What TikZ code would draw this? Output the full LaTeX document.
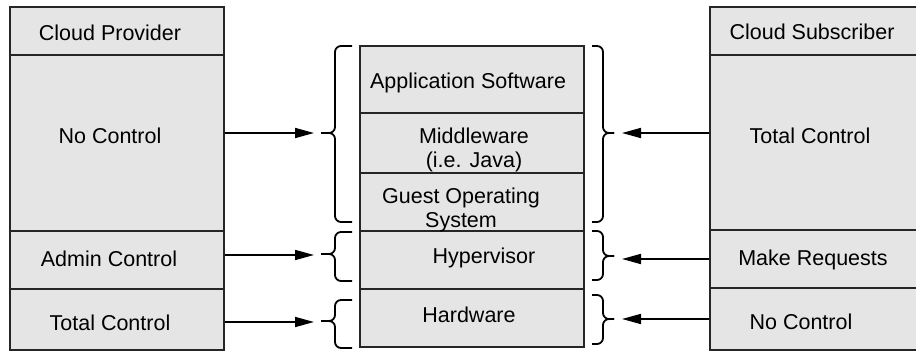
\documentclass[tikz,border=0pt]{standalone}
\usepackage{fontspec}
\setmainfont{Liberation Sans}
\usetikzlibrary{arrows.meta}
% curly bracket: end x, body x, tip x, top y, tip y, bottom y
\newcommand{\curl}[6]{%
  \draw[curl] (#1,#4) -- (#2,#4) -- (#2,#5) -- (#3,#5);
  \draw[curl] (#3,#5) -- (#2,#5) -- (#2,#6) -- (#1,#6);}
\begin{document}
\begin{tikzpicture}[x=1pt, y=-1pt]
  \tikzstyle{box}=[draw=black!85, line width=1.7pt, fill=black!10, inner sep=0pt]
  \tikzstyle{side}=[box, minimum width=214pt]
  \tikzstyle{layer}=[box, minimum width=224pt]
  \tikzstyle{lbl}=[font=\fontsize{21.5}{24}\selectfont, inner sep=0pt, align=center]
  \tikzstyle{arr}=[line width=1.7pt, -{Triangle[length=19pt, width=10pt]}]
  \tikzstyle{curl}=[line width=1.8pt, rounded corners=6pt]

  \useasboundingbox (0,0) rectangle (916,352);

  % provider column
  \node[side, minimum height=48pt]  (prov)    at (117, 31)  {};
  \node[side, minimum height=176pt] (provNo)  at (117, 143) {};
  \node[side, minimum height=58pt]  (provAdm) at (117, 260) {};
  \node[side, minimum height=61pt]  (provTot) at (117, 319.5) {};

  % software stack
  \node[layer, minimum height=67pt] (app) at (472, 79.5) {};
  \node[layer, minimum height=60pt] (mid) at (472, 143)  {};
  \node[layer, minimum height=58pt] (gos) at (472, 202)  {};
  \node[layer, minimum height=58pt] (hyp) at (472, 260)  {};
  \node[layer, minimum height=58pt] (hw)  at (472, 318)  {};

  % subscriber column
  \node[side, minimum height=48pt]  (subs)    at (817, 31)  {};
  \node[side, minimum height=175pt] (subsTot) at (817, 142.5) {};
  \node[side, minimum height=58pt]  (subsReq) at (817, 259) {};
  \node[side, minimum height=62pt]  (subsNo)  at (817, 319) {};

  % labels
  \node[lbl] (provT)    at (110, 33)  {Cloud Provider};
  \node[lbl] (provNoT)  at (110, 136) {No Control};
  \node[lbl] (provAdmT) at (109, 259) {Admin Control};
  \node[lbl] (provTotT) at (110, 323) {Total Control};
  \node[lbl] (appT) at (468, 83)  {Application Software};
  \node[lbl] (midT) at (474, 150) {Middleware\\(i.e. Java)};
  \node[lbl] (gosT) at (461, 210) {Guest Operating\\System};
  \node[lbl] (hypT) at (484, 258) {Hypervisor};
  \node[lbl] (hwT)  at (469, 315) {Hardware};
  \node[lbl] (subsT)    at (812, 32)  {Cloud Subscriber};
  \node[lbl] (subsTotT) at (810, 136) {Total Control};
  \node[lbl] (subsReqT) at (813, 260) {Make Requests};
  \node[lbl] (subsNoT)  at (801, 322) {No Control};

  % brackets
  \curl{352}{335}{321}{46}{133}{222}
  \curl{352}{335}{321}{232}{254}{281}
  \curl{352}{335}{321}{300}{321}{348}
  \curl{592}{603}{614}{46}{133}{222}
  \curl{592}{603}{614}{231}{256}{280}
  \curl{592}{603}{614}{295}{319}{344}

  \coordinate (pa1) at (314, 133);
  \coordinate (pa2) at (314, 255);
  \coordinate (pa3) at (314, 322);
  \coordinate (sa1) at (622, 133);
  \coordinate (sa2) at (622, 259);
  \coordinate (sa3) at (622, 319);

  \path (provNo.east |- pa1)  edge[arr] (pa1);
  \path (provAdm.east |- pa2) edge[arr] (pa2);
  \path (provTot.east |- pa3) edge[arr] (pa3);
  \path (subsTot.west |- sa1) edge[arr] (sa1);
  \path (subsReq.west |- sa2) edge[arr] (sa2);
  \path (subsNo.west |- sa3)  edge[arr] (sa3);
\end{tikzpicture}
\end{document}
